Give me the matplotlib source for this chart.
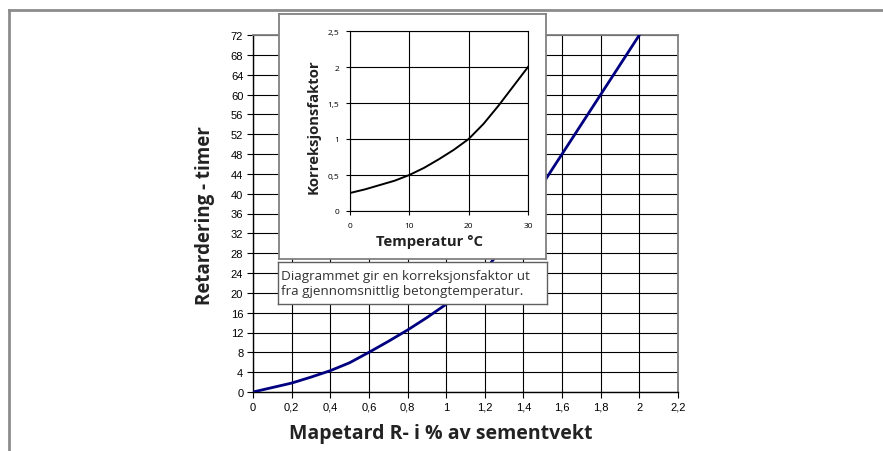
import matplotlib.pyplot as plt
from matplotlib.lines import Line2D

# hovedkurve: Mapetard R dosering -> retardering (timer)
dose = [0, 0.1, 0.2, 0.3, 0.4, 0.5, 0.6, 0.7, 0.8, 0.9, 1.0, 1.1, 1.2, 1.3, 1.4, 1.6, 1.8, 2.0]
timer = [0, 0.9, 1.8, 3.0, 4.3, 5.9, 8.0, 10.2, 12.5, 15.0, 17.7, 20.8, 24.5, 29.5, 36, 48, 60, 72]

# innfelt: temperatur -> korreksjonsfaktor
temp = [0, 2.5, 5, 7.5, 10, 12.5, 15, 17.5, 20, 22.5, 25, 27.5, 30]
faktor = [0.25, 0.3, 0.36, 0.42, 0.5, 0.6, 0.72, 0.85, 1.0, 1.21, 1.46, 1.73, 2.0]

x_ticks = [0, 0.2, 0.4, 0.6, 0.8, 1.0, 1.2, 1.4, 1.6, 1.8, 2.0, 2.2]
x_labels = ['0', '0,2', '0,4', '0,6', '0,8', '1', '1,2', '1,4', '1,6', '1,8', '2', '2,2']
y_ticks = list(range(0, 73, 4))
t_ticks = [0, 10, 20, 30]
f_ticks = [0, 0.5, 1, 1.5, 2, 2.5]
f_labels = ['0', '0,5', '1', '1,5', '2', '2,5']

W, H = 883, 452
fig = plt.figure(figsize=(W / 100, H / 100), dpi=100)


def box(x0, y0, x1, y1):
    # piksel (topp-venstre) -> figur-koordinater
    return [x0 / W, 1 - y1 / H, (x1 - x0) / W, (y1 - y0) / H]


lab_font = 'Open Sans'
tick_font = 'Liberation Sans'

# ---------- hoveddiagram ----------
ax = fig.add_axes(box(253, 36, 678, 393))
ax.plot(dose, timer, color='#000080', lw=2, zorder=3)
ax.set_xlim(0, 2.2)
ax.set_ylim(0, 72)
ax.set_xticks(x_ticks)
ax.set_xticklabels(x_labels, family=tick_font, fontsize=8)
ax.set_yticks(y_ticks)
ax.set_yticklabels([str(v) for v in y_ticks], family=tick_font, fontsize=8)
ax.tick_params(direction='out', length=4, width=0.8, color='black', pad=3)
ax.grid(True, color='black', lw=0.8)
ax.set_axisbelow(True)
for s in ['top', 'right']:
    ax.spines[s].set_color('#808080')
    ax.spines[s].set_linewidth(1.3)
for s in ['left', 'bottom']:
    ax.spines[s].set_linewidth(1.0)
ax.set_xlabel('Mapetard R- i % av sementvekt', family=lab_font, fontweight='bold',
              fontsize=14, color='#222222')
ax.xaxis.set_label_coords((441 - 253) / 425, -(434 - 393) / 357)
ax.xaxis.label.set_va('center')
ax.set_ylabel('Retardering - timer', family=lab_font, fontweight='bold',
              fontsize=13.5, color='#222222')
ax.yaxis.set_label_coords(-(253 - 205) / 425, (393 - 216) / 357)
ax.yaxis.label.set_va('center')

# ---------- innfelt boks ----------
frame = fig.add_axes(box(279, 15, 546, 260))
frame.set_xticks([])
frame.set_yticks([])
frame.set_facecolor('white')
for s in frame.spines.values():
    s.set_color('#808080')
    s.set_linewidth(1.3)

ins = fig.add_axes(box(350, 32, 528, 212))
ins.plot(temp, faktor, color='black', lw=1.4, zorder=3)
ins.set_xlim(0, 30)
ins.set_ylim(0, 2.5)
ins.set_xticks(t_ticks)
ins.set_xticklabels([str(v) for v in t_ticks], family=lab_font, fontsize=6)
ins.set_yticks(f_ticks)
ins.set_yticklabels(f_labels, family=lab_font, fontsize=6)
ins.tick_params(direction='out', length=3, width=0.8, pad=5)
ins.grid(True, color='black', lw=0.8)
ins.set_axisbelow(True)
ins.set_xlabel('Temperatur °C', family=lab_font, fontweight='bold', fontsize=10.7,
               color='#222222')
ins.xaxis.set_label_coords((430 - 350) / 178, -(242 - 212) / 180)
ins.xaxis.label.set_va('center')
ins.set_ylabel('Korreksjonsfaktor', family=lab_font, fontweight='bold', fontsize=10.7,
               color='#222222')
ins.yaxis.set_label_coords(-(350 - 314) / 178, (212 - 127) / 180)
ins.yaxis.label.set_va('center')

# ---------- tekstboks ----------
tb = fig.add_axes(box(278, 263, 547, 305))
tb.set_xticks([])
tb.set_yticks([])
tb.set_facecolor('white')
for s in tb.spines.values():
    s.set_color('#606060')
    s.set_linewidth(1.0)
tb.text(0.012, 0.5, 'Diagrammet gir en korreksjonsfaktor ut\nfra gjennomsnittlig betongtemperatur.',
        transform=tb.transAxes, ha='left', va='center', family=lab_font,
        fontsize=9.7, color='#333333', linespacing=1.15)

# ---------- ytre ramme ----------
fig.add_artist(Line2D([9 / W, 1], [1 - 11 / H, 1 - 11 / H], color='#8c8c8c', lw=2))
fig.add_artist(Line2D([9 / W, 9 / W], [0, 1 - 11 / H], color='#8c8c8c', lw=2))

plt.savefig('out.png', dpi=100)
